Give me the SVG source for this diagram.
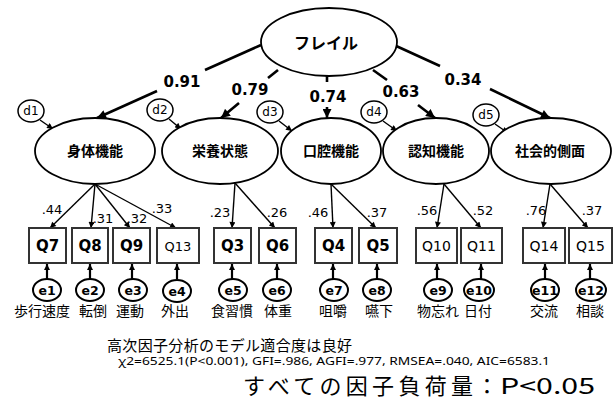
<svg xmlns="http://www.w3.org/2000/svg" width="614" height="403" viewBox="0 0 614 403">
<style>
.ln{stroke:#000;fill:none}
.main{stroke-width:2.6}
.ld{stroke-width:1.4}
.ee{stroke-width:2.2}
.lat ellipse{fill:#fff;stroke:#000;stroke-width:1.8}
.box rect{fill:#fff;stroke:#333;stroke-width:2}
.res ellipse{fill:#fff;stroke:#000;stroke-width:2}
.dres ellipse{fill:#fff;stroke:#000;stroke-width:1.5}
.jp{font-family:"Noto Sans CJK JP","Noto Sans",sans-serif}
.latxt{font-size:14px;font-weight:bold;text-anchor:middle}
.qb{font-family:"DejaVu Sans",Verdana,sans-serif;font-size:15px;font-weight:bold;text-anchor:middle}
.qr{font-family:"DejaVu Sans",Verdana,sans-serif;font-size:14px;text-anchor:middle}
.etx{font-family:"DejaVu Sans",Verdana,sans-serif;font-size:12.5px;font-weight:bold;text-anchor:middle}
.dtx{font-family:"DejaVu Sans",Verdana,sans-serif;font-size:12px;text-anchor:middle}
.mv{font-family:"DejaVu Sans",Verdana,sans-serif;font-size:15px;font-weight:bold;text-anchor:middle}
.lv{font-family:"DejaVu Sans",Verdana,sans-serif;font-size:13px;text-anchor:middle}
.lab{font-size:14px;text-anchor:middle}
</style>
<defs>
<marker id="ah" viewBox="0 0 10 10" refX="10" refY="5" markerWidth="10" markerHeight="9" markerUnits="userSpaceOnUse" orient="auto"><path d="M0,0 L10,5 L0,10 z" fill="#000"/></marker>
<marker id="as" viewBox="0 0 10 10" refX="10" refY="5" markerWidth="7" markerHeight="6" markerUnits="userSpaceOnUse" orient="auto"><path d="M0,0 L10,5 L0,10 z" fill="#000"/></marker>
</defs>

<g id="connectors">
  <line class="ln main" x1="261" y1="45" x2="205" y2="70"/>
  <line class="ln main" x1="157" y1="91" x2="97" y2="118" marker-end="url(#ah)"/>
  <line class="ln main" x1="278" y1="70" x2="268" y2="78"/>
  <line class="ln main" x1="239" y1="103" x2="221" y2="118" marker-end="url(#ah)"/>
  <line class="ln main" x1="327" y1="76" x2="327" y2="82"/>
  <line class="ln main" x1="327" y1="107" x2="327" y2="118" marker-end="url(#ah)"/>
  <line class="ln main" x1="373" y1="70" x2="387" y2="80"/>
  <line class="ln main" x1="418" y1="105" x2="435" y2="118" marker-end="url(#ah)"/>
  <line class="ln main" x1="394" y1="45" x2="440" y2="66"/>
  <line class="ln main" x1="490" y1="89" x2="550" y2="118" marker-end="url(#ah)"/>
  <line class="ln ld" x1="40" y1="120" x2="53" y2="129" marker-end="url(#as)"/>
  <line class="ln ld" x1="169" y1="119" x2="181" y2="129" marker-end="url(#as)"/>
  <line class="ln ld" x1="279" y1="121" x2="292" y2="131" marker-end="url(#as)"/>
  <line class="ln ld" x1="383" y1="121" x2="397" y2="131" marker-end="url(#as)"/>
  <line class="ln ld" x1="495" y1="124" x2="508" y2="133" marker-end="url(#as)"/>
  <line class="ln ld" x1="95" y1="184" x2="50" y2="228" marker-end="url(#as)"/>
  <line class="ln ld" x1="95" y1="184" x2="91" y2="228" marker-end="url(#as)"/>
  <line class="ln ld" x1="95" y1="184" x2="130" y2="228" marker-end="url(#as)"/>
  <line class="ln ld" x1="95" y1="184" x2="176" y2="228" marker-end="url(#as)"/>
  <line class="ln ld" x1="235" y1="183" x2="232" y2="228" marker-end="url(#as)"/>
  <line class="ln ld" x1="235" y1="183" x2="275" y2="228" marker-end="url(#as)"/>
  <line class="ln ld" x1="331" y1="184" x2="333" y2="228" marker-end="url(#as)"/>
  <line class="ln ld" x1="331" y1="184" x2="376" y2="228" marker-end="url(#as)"/>
  <line class="ln ld" x1="444" y1="184" x2="437" y2="228" marker-end="url(#as)"/>
  <line class="ln ld" x1="444" y1="184" x2="481" y2="228" marker-end="url(#as)"/>
  <line class="ln ld" x1="550" y1="184" x2="543" y2="228" marker-end="url(#as)"/>
  <line class="ln ld" x1="550" y1="184" x2="588" y2="228" marker-end="url(#as)"/>
  <line class="ln ee" x1="47" y1="279" x2="47" y2="264" marker-end="url(#as)"/>
  <line class="ln ee" x1="90" y1="279" x2="90" y2="264" marker-end="url(#as)"/>
  <line class="ln ee" x1="132" y1="279" x2="132" y2="264" marker-end="url(#as)"/>
  <line class="ln ee" x1="177" y1="279" x2="177" y2="264" marker-end="url(#as)"/>
  <line class="ln ee" x1="232" y1="279" x2="232" y2="264" marker-end="url(#as)"/>
  <line class="ln ee" x1="277" y1="279" x2="277" y2="264" marker-end="url(#as)"/>
  <line class="ln ee" x1="333" y1="279" x2="333" y2="264" marker-end="url(#as)"/>
  <line class="ln ee" x1="377" y1="279" x2="377" y2="264" marker-end="url(#as)"/>
  <line class="ln ee" x1="437" y1="279" x2="437" y2="264" marker-end="url(#as)"/>
  <line class="ln ee" x1="481" y1="279" x2="481" y2="264" marker-end="url(#as)"/>
  <line class="ln ee" x1="545" y1="279" x2="545" y2="264" marker-end="url(#as)"/>
  <line class="ln ee" x1="590" y1="279" x2="590" y2="264" marker-end="url(#as)"/>
  <text class="mv" x="182" y="87">0.91</text>
  <text class="mv" x="250" y="95">0.79</text>
  <text class="mv" x="328" y="102">0.74</text>
  <text class="mv" x="401" y="97">0.63</text>
  <text class="mv" x="463" y="85">0.34</text>
  <text class="lv" x="52" y="214">.44</text>
  <text class="lv" x="103" y="223">.31</text>
  <text class="lv" x="137" y="223">.32</text>
  <text class="lv" x="162" y="213">.33</text>
  <text class="lv" x="220" y="217">.23</text>
  <text class="lv" x="277" y="217">.26</text>
  <text class="lv" x="318" y="217">.46</text>
  <text class="lv" x="377" y="217">.37</text>
  <text class="lv" x="427" y="215">.56</text>
  <text class="lv" x="483" y="215">.52</text>
  <text class="lv" x="536" y="215">.76</text>
  <text class="lv" x="592" y="215">.37</text>
</g>

<g id="frail" class="lat"><ellipse cx="329" cy="42" rx="68" ry="34"/><text class="jp latxt" x="326" y="49" style="font-size:16px">フレイル</text></g>

<g id="f1" class="lat"><ellipse cx="95" cy="151" rx="60" ry="33"/><text class="jp latxt" x="95" y="156">身体機能</text></g>
<g id="f2" class="lat"><ellipse cx="220" cy="151" rx="58" ry="33"/><text class="jp latxt" x="220" y="156">栄養状態</text></g>
<g id="f3" class="lat"><ellipse cx="331" cy="151" rx="50" ry="33"/><text class="jp latxt" x="331" y="156">口腔機能</text></g>
<g id="f4" class="lat"><ellipse cx="436" cy="151" rx="53" ry="33"/><text class="jp latxt" x="436" y="156">認知機能</text></g>
<g id="f5" class="lat"><ellipse cx="551" cy="151" rx="60" ry="33"/><text class="jp latxt" x="550" y="156">社会的側面</text></g>

<g id="d1" class="dres"><ellipse cx="31" cy="111" rx="13" ry="11"/><text class="dtx" x="31" y="115">d1</text></g>
<g id="d2" class="dres"><ellipse cx="160" cy="110" rx="13" ry="11"/><text class="dtx" x="160" y="114">d2</text></g>
<g id="d3" class="dres"><ellipse cx="270" cy="112" rx="13" ry="11"/><text class="dtx" x="270" y="116">d3</text></g>
<g id="d4" class="dres"><ellipse cx="374" cy="112" rx="13" ry="11"/><text class="dtx" x="374" y="116">d4</text></g>
<g id="d5" class="dres"><ellipse cx="486" cy="115" rx="13" ry="11"/><text class="dtx" x="486" y="119">d5</text></g>

<g id="Q7" class="box"><rect x="29" y="228" width="37" height="35"/><text class="qb" x="47.5" y="251">Q7</text></g>
<g id="Q8" class="box"><rect x="72" y="228" width="36" height="35"/><text class="qb" x="90" y="251">Q8</text></g>
<g id="Q9" class="box"><rect x="113" y="228" width="37" height="35"/><text class="qb" x="131.5" y="251">Q9</text></g>
<g id="Q13" class="box"><rect x="157" y="228" width="42" height="35"/><text class="qr" x="178" y="251" style="font-size:13px">Q13</text></g>
<g id="Q3" class="box"><rect x="214" y="228" width="37" height="35"/><text class="qb" x="232.5" y="251">Q3</text></g>
<g id="Q6" class="box"><rect x="259" y="228" width="37" height="35"/><text class="qb" x="277.5" y="251">Q6</text></g>
<g id="Q4" class="box"><rect x="315" y="228" width="37" height="35"/><text class="qb" x="333.5" y="251">Q4</text></g>
<g id="Q5" class="box"><rect x="359" y="228" width="38" height="35"/><text class="qb" x="378" y="251">Q5</text></g>
<g id="Q10" class="box"><rect x="416" y="228" width="41" height="35"/><text class="qr" x="436.5" y="251">Q10</text></g>
<g id="Q11" class="box"><rect x="461" y="228" width="41" height="35"/><text class="qr" x="481.5" y="251">Q11</text></g>
<g id="Q14" class="box"><rect x="523" y="228" width="42" height="35"/><text class="qr" x="544" y="251">Q14</text></g>
<g id="Q15" class="box"><rect x="569" y="228" width="43" height="35"/><text class="qr" x="590.5" y="251">Q15</text></g>

<g id="e1" class="res"><ellipse cx="47" cy="290" rx="14" ry="11"/><text class="etx" x="47" y="295">e1</text></g>
<g id="e2" class="res"><ellipse cx="90" cy="290" rx="14" ry="11"/><text class="etx" x="90" y="295">e2</text></g>
<g id="e3" class="res"><ellipse cx="133" cy="290" rx="14" ry="11"/><text class="etx" x="133" y="295">e3</text></g>
<g id="e4" class="res"><ellipse cx="177" cy="291" rx="14" ry="11"/><text class="etx" x="177" y="296">e4</text></g>
<g id="e5" class="res"><ellipse cx="233" cy="290" rx="14" ry="11"/><text class="etx" x="233" y="295">e5</text></g>
<g id="e6" class="res"><ellipse cx="277" cy="290" rx="14" ry="11"/><text class="etx" x="277" y="295">e6</text></g>
<g id="e7" class="res"><ellipse cx="334" cy="290" rx="14" ry="11"/><text class="etx" x="334" y="295">e7</text></g>
<g id="e8" class="res"><ellipse cx="377" cy="290" rx="14" ry="11"/><text class="etx" x="377" y="295">e8</text></g>
<g id="e9" class="res"><ellipse cx="438" cy="290" rx="14" ry="11"/><text class="etx" x="438" y="295">e9</text></g>
<g id="e10" class="res"><ellipse cx="479" cy="290" rx="15" ry="11"/><text class="etx" x="479" y="295">e10</text></g>
<g id="e11" class="res"><ellipse cx="545" cy="290" rx="14" ry="11"/><text class="etx" x="545" y="295">e11</text></g>
<g id="e12" class="res"><ellipse cx="591" cy="290" rx="15" ry="11"/><text class="etx" x="591" y="295">e12</text></g>

<g id="labels" class="jp">
  <text class="lab" x="42" y="316">歩行速度</text>
  <text class="lab" x="93" y="316">転倒</text>
  <text class="lab" x="130" y="316">運動</text>
  <text class="lab" x="175" y="316">外出</text>
  <text class="lab" x="232" y="316">食習慣</text>
  <text class="lab" x="278" y="316">体重</text>
  <text class="lab" x="333" y="316">咀嚼</text>
  <text class="lab" x="379" y="316">嚥下</text>
  <text class="lab" x="438" y="316">物忘れ</text>
  <text class="lab" x="478" y="316">日付</text>
  <text class="lab" x="544" y="316">交流</text>
  <text class="lab" x="590" y="316">相談</text>
</g>

<g id="notes">
  <text class="jp" x="107" y="351" style="font-size:15px" textLength="245">高次因子分析のモデル適合度は良好</text>
  <text x="118" y="365" style="font-family:'Noto Sans',sans-serif;font-size:11px" textLength="432" lengthAdjust="spacingAndGlyphs">χ2=6525.1(P&lt;0.001), GFI=.986, AGFI=.977, RMSEA=.040, AIC=6583.1</text>
  <text class="jp" x="243" y="394" style="font-size:22px" textLength="230">すべての因子負荷量</text>
  <text class="jp" x="487" y="394" style="font-size:22px;text-anchor:middle">：</text>
  <text class="jp" x="500" y="394" style="font-size:22px" textLength="95" lengthAdjust="spacingAndGlyphs">P&lt;0.05</text>
</g>
</svg>
